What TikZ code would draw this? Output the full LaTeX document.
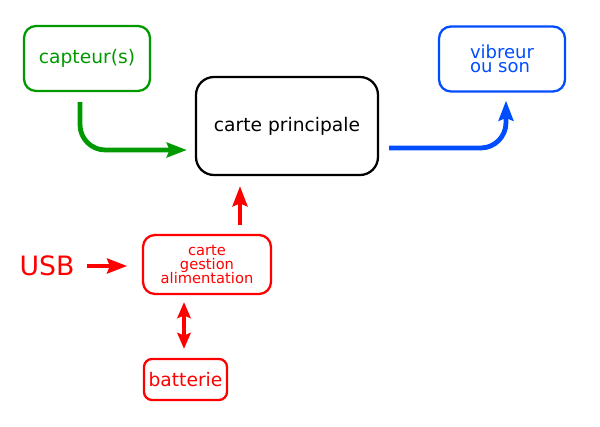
\documentclass[tikz,border=0pt]{standalone}
\usepackage{fontspec}
\setmainfont{DejaVu Sans}
\usetikzlibrary{arrows.meta,calc}
\definecolor{clrcapt}{RGB}{0,153,0}
\definecolor{clrvibr}{RGB}{0,76,255}
\definecolor{clralim}{RGB}{255,0,0}

\begin{document}
\begin{tikzpicture}[x=0.75pt, y=-0.75pt,
    boite/.style={draw, line width=1.7pt, rounded corners=9pt, inner sep=0pt, align=center},
    fleche/.style={line width=3.6pt, -{Stealth[length=15pt,width=11pt,inset=2pt]}},
    double fleche/.style={line width=3.4pt, {Stealth[length=12pt,width=10pt,inset=2pt]}-{Stealth[length=12pt,width=10pt,inset=2pt]}}]
    \useasboundingbox (0,0) rectangle (600,427);

    % les cartes
    \node[boite, clrcapt, minimum width=94.5pt, minimum height=48.75pt, font=\fontsize{14}{16}\selectfont] (capteur) at (87,58.5) {capteur(s)};
    \node[boite, minimum width=136.5pt, minimum height=73.5pt, rounded corners=13.5pt, font=\fontsize{14}{16}\selectfont] (principale) at (287,126) {carte principale};
    \node[boite, clrvibr, minimum width=94.5pt, minimum height=48.75pt, align=left, font={\fontsize{13.5}{10.5}\selectfont}] (vibreur) at (502,59) {vibreur\\ou son};
    \node[boite, clralim, minimum width=96pt, minimum height=44.25pt, font={\fontsize{11}{10.5}\selectfont\lineskiplimit=-4pt}] (gestion) at (207,264.5) {carte\\gestion\\alimentation};
    \node[boite, clralim, minimum width=62.25pt, minimum height=30.75pt, rounded corners=6pt, font=\fontsize{14}{16}\selectfont] (batterie) at (185.5,379.5) {batterie};
    \node[clralim, inner sep=0pt, font=\fontsize{20}{24}\selectfont] (usb) at (47,266) {USB};

    % les liaisons
    \draw[fleche, clrcapt, rounded corners=19pt] ($(capteur.south)+(-7,10)$) |- ($(principale.west)+(-8,24)$);
    \draw[fleche, clrvibr, rounded corners=19pt] ($(principale.east)+(10,22)$) -| ($(vibreur.south)+(4,8)$);
    \draw[fleche, clralim] ($(gestion.north)+(33,-9)$) -- ($(principale.south)+(-47,10)$);
    \draw[fleche, clralim, shorten <=9pt, shorten >=11pt] (usb.east) -- (usb.east -| gestion.west);
    \draw[double fleche, clralim] ($(batterie.north)+(-1.5,-9)$) -- ($(batterie.north |- gestion.south)+(-1.5,7)$);
\end{tikzpicture}
\end{document}
